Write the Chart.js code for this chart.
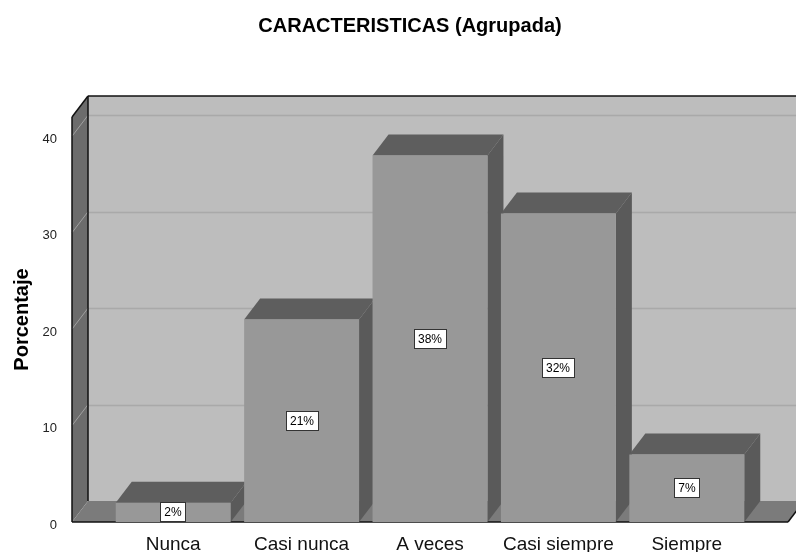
<!DOCTYPE html>
<html>
<head>
<meta charset="utf-8">
<script src="https://cdn.jsdelivr.net/npm/chart.js@4/dist/chart.umd.min.js"></script>
<style>
  html, body { margin: 0; padding: 0; background: #ffffff; overflow: hidden; }
  #wrap { position: relative; width: 796px; height: 552px; }
</style>
</head>
<body>
<div id="wrap"><canvas id="c"></canvas></div>
<script>
// Categories and percentage values
const categories = ['Nunca', 'Casi nunca', 'A veces', 'Casi siempre', 'Siempre'];
const percentages = [2, 21, 38, 32, 7];
const yTickValues = [0, 10, 20, 30, 40];
const yMax = 42;

// 3D look: depth offset of the box and the bars
const DX = 16, DY = -21;
const SIDE = 37; // floor/wall extension beyond the category band

const COLORS = {
  backWall: '#bdbdbd',
  backGrid: '#a9a9a9',
  leftWall: '#6c6c6c',
  leftTick: '#a0a0a0',
  floor: '#7b7b7b',
  barFront: '#989898',
  barTop: '#5e5e5e',
  barSide: '#5a5a5a',
  edge: '#111111'
};

function poly(ctx, pts, fill) {
  ctx.beginPath();
  ctx.moveTo(pts[0][0], pts[0][1]);
  for (let i = 1; i < pts.length; i++) ctx.lineTo(pts[i][0], pts[i][1]);
  ctx.closePath();
  ctx.fillStyle = fill;
  ctx.fill();
}

function line(ctx, x1, y1, x2, y2, color, w) {
  ctx.beginPath();
  ctx.moveTo(x1, y1);
  ctx.lineTo(x2, y2);
  ctx.strokeStyle = color;
  ctx.lineWidth = w;
  ctx.stroke();
}

// Walls, floor and the hidden faces of each bar, drawn before the bar fronts
const box3d = {
  id: 'box3d',
  beforeDatasetsDraw(chart) {
    const { ctx, chartArea: a, scales: { x, y } } = chart;
    const L = a.left - SIDE, R = a.right + SIDE;
    const B = y.getPixelForValue(0), T = y.getPixelForValue(yMax);
    ctx.save();

    // back wall
    poly(ctx, [[L + DX, T + DY], [R + DX, T + DY], [R + DX, B + DY], [L + DX, B + DY]], COLORS.backWall);
    yTickValues.forEach(v => {
      if (v === 0) return;
      const py = Math.round(y.getPixelForValue(v) + DY) + 0.5;
      line(ctx, L + DX, py, R + DX, py, COLORS.backGrid, 1.5);
    });

    // left wall
    poly(ctx, [[L, T], [L + DX, T + DY], [L + DX, B + DY], [L, B]], COLORS.leftWall);
    yTickValues.forEach(v => {
      if (v === 0) return;
      const py = y.getPixelForValue(v);
      line(ctx, L, py, L + DX, py + DY, COLORS.leftTick, 1);
    });

    // floor
    poly(ctx, [[L, B], [L + DX, B + DY], [R + DX, B + DY], [R, B]], COLORS.floor);

    // box edges
    line(ctx, L + DX, T + DY, R + DX, T + DY, COLORS.edge, 1.5);
    line(ctx, L, T, L + DX, T + DY, COLORS.edge, 1.5);
    line(ctx, L + DX, T + DY, L + DX, B + DY, COLORS.edge, 1.5);
    line(ctx, L, T, L, B, COLORS.edge, 1.5);
    line(ctx, L, B, R, B, COLORS.edge, 1.5);
    line(ctx, R, B, R + DX, B + DY, COLORS.edge, 1.5);

    // top and side faces of the bars
    const meta = chart.getDatasetMeta(0);
    meta.data.forEach(bar => {
      const p = bar.getProps(['x', 'y', 'base', 'width'], true);
      const fl = p.x - p.width / 2, fr = p.x + p.width / 2;
      poly(ctx, [[fl, p.y], [fl + DX, p.y + DY], [fr + DX, p.y + DY], [fr, p.y]], COLORS.barTop);
      poly(ctx, [[fr, p.y], [fr + DX, p.y + DY], [fr + DX, p.base + DY], [fr, p.base]], COLORS.barSide);
    });
    ctx.restore();
  }
};

// Boxed percentage labels in the middle of each bar front
const valueBoxes = {
  id: 'valueBoxes',
  afterDatasetsDraw(chart) {
    const { ctx } = chart;
    const meta = chart.getDatasetMeta(0);
    ctx.save();
    ctx.font = '12px "Liberation Sans", Arial, sans-serif';
    ctx.textAlign = 'center';
    ctx.textBaseline = 'middle';
    meta.data.forEach((bar, i) => {
      const p = bar.getProps(['x', 'y', 'base'], true);
      const text = percentages[i] + '%';
      const cx = Math.round(p.x), cy = Math.round((p.y + p.base) / 2);
      const w = Math.round(ctx.measureText(text).width) + 8, h = 19;
      const bx = cx - Math.round(w / 2) + 0.5, by = cy - Math.round(h / 2) + 0.5;
      ctx.fillStyle = '#ffffff';
      ctx.fillRect(bx, by, w, h);
      ctx.strokeStyle = '#333333';
      ctx.lineWidth = 1;
      ctx.strokeRect(bx, by, w, h);
      ctx.fillStyle = '#000000';
      ctx.fillText(text, cx, cy + 1);
    });
    ctx.restore();
  }
};

new Chart(document.getElementById('c'), {
  type: 'bar',
  data: {
    labels: categories,
    datasets: [{
      data: percentages,
      backgroundColor: COLORS.barFront,
      borderWidth: 0,
      categoryPercentage: 1.0,
      barPercentage: 0.895
    }]
  },
  plugins: [box3d, valueBoxes],
  options: {
    responsive: true,
    maintainAspectRatio: false,
    animation: false,
    devicePixelRatio: 1,
    layout: { padding: { left: 24, right: 0, top: 0, bottom: 0 } },
    plugins: {
      legend: { display: false },
      tooltip: { enabled: false },
      title: {
        display: true,
        text: 'CARACTERISTICAS (Agrupada)',
        color: '#000000',
        font: { family: '"Liberation Sans", Arial, sans-serif', size: 20, weight: 'bold' },
        padding: { top: 14, bottom: 79 }
      }
    },
    scales: {
      x: {
        grid: { display: false },
        border: { display: false },
        ticks: {
          color: '#111111',
          font: { family: '"Liberation Sans", Arial, sans-serif', size: 19 },
          padding: 3,
          maxRotation: 0
        },
        afterFit(scale) { scale.height = 30; }
      },
      y: {
        min: 0,
        max: yMax,
        grid: { display: false },
        border: { display: false },
        afterBuildTicks(scale) {
          scale.ticks = yTickValues.map(v => ({ value: v }));
        },
        ticks: {
          color: '#222222',
          font: { family: '"Liberation Sans", Arial, sans-serif', size: 13 },
          padding: 44,
          labelOffset: 3
        },
        title: {
          display: true,
          text: 'Porcentaje',
          color: '#000000',
          font: { family: '"Liberation Sans", Arial, sans-serif', size: 20, weight: 'bold' },
          padding: { top: -14, bottom: 0 }
        },
        afterFit(scale) {
          scale.width = 85;
          scale.paddingTop = 8;
          scale.paddingBottom = 8;
        }
      },
      // empty right-hand axis that reserves space beside the floor
      yRight: {
        position: 'right',
        grid: { display: false },
        border: { display: false },
        ticks: { display: false },
        afterFit(scale) {
          scale.width = 45;
          scale.paddingTop = 0;
          scale.paddingBottom = 0;
        }
      }
    }
  }
});
</script>
</body>
</html>
